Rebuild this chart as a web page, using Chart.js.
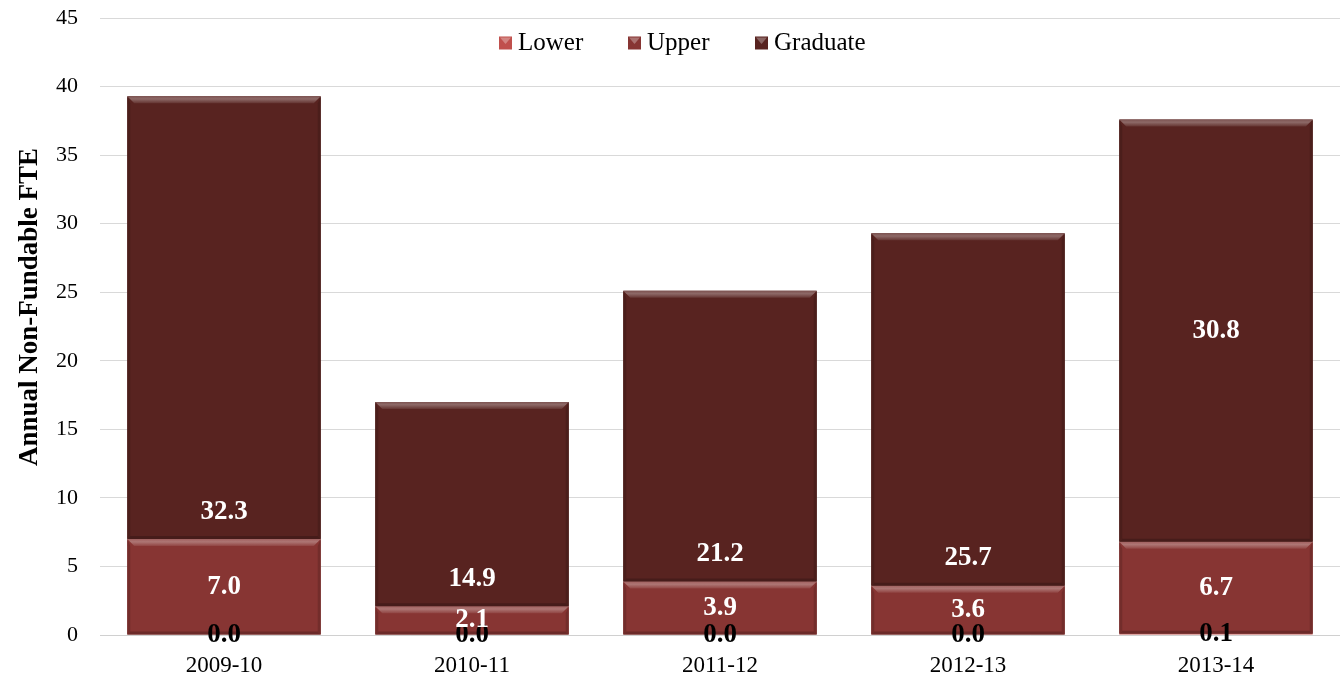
<!DOCTYPE html>
<html>
<head>
<meta charset="utf-8">
<script src="https://cdn.jsdelivr.net/npm/chart.js@4/dist/chart.umd.min.js"></script>
<style>
  html, body { margin: 0; padding: 0; background: #ffffff; }
  #wrap { width: 1340px; height: 679px; position: relative; }
</style>
</head>
<body>
<div id="wrap"><canvas id="c" width="1340" height="679"></canvas></div>
<script>
const categories = ["2009-10", "2010-11", "2011-12", "2012-13", "2013-14"];
const lowerValues = [0.0, 0.0, 0.0, 0.0, 0.1];
const upperValues = [7.0, 2.1, 3.9, 3.6, 6.7];
const graduateValues = [32.3, 14.9, 21.2, 25.7, 30.8];
const seriesNames = ["Lower", "Upper", "Graduate"];
const yTicks = [0, 5, 10, 15, 20, 25, 30, 35, 40, 45];
const yTitle = "Annual Non-Fundable FTE";

const colors = ["#c0504d", "#873533", "#582320"];
const FONT = "'Liberation Serif', 'DejaVu Serif', serif";

function lighten(hex, amt) {
  const n = parseInt(hex.slice(1), 16);
  let r = (n >> 16) & 255, g = (n >> 8) & 255, b = n & 255;
  r = Math.round(r + (255 - r) * amt); g = Math.round(g + (255 - g) * amt); b = Math.round(b + (255 - b) * amt);
  return `rgb(${r},${g},${b})`;
}
function darken(hex, amt) {
  const n = parseInt(hex.slice(1), 16);
  let r = (n >> 16) & 255, g = (n >> 8) & 255, b = n & 255;
  return `rgb(${Math.round(r*(1-amt))},${Math.round(g*(1-amt))},${Math.round(b*(1-amt))})`;
}

// bevel effect on bars
const bevelPlugin = {
  id: 'bevel',
  afterDatasetsDraw(chart) {
    const ctx = chart.ctx;
    chart.data.datasets.forEach((ds, di) => {
      const meta = chart.getDatasetMeta(di);
      meta.data.forEach((bar) => {
        const p = bar.getProps(['x', 'y', 'base', 'width'], true);
        const left = p.x - p.width / 2, right = p.x + p.width / 2;
        const top = Math.min(p.y, p.base), bottom = Math.max(p.y, p.base);
        const h = bottom - top;
        if (h < 1) return;
        const bev = Math.min(7, h / 2);
        const c = ds.backgroundColor;
        ctx.save();
        const g = ctx.createLinearGradient(0, top, 0, top + bev);
        g.addColorStop(0, lighten(c, 0.22));
        g.addColorStop(0.4, lighten(c, 0.32));
        g.addColorStop(1, lighten(c, 0.08));
        ctx.fillStyle = g;
        ctx.beginPath();
        ctx.moveTo(left, top); ctx.lineTo(right, top);
        ctx.lineTo(right - bev, top + bev); ctx.lineTo(left + bev, top + bev);
        ctx.closePath(); ctx.fill();
        ctx.fillStyle = darken(c, 0.15);
        ctx.beginPath();
        ctx.moveTo(right, top); ctx.lineTo(right, bottom);
        ctx.lineTo(right - 3, bottom - 3); ctx.lineTo(right - 3, top + bev);
        ctx.closePath(); ctx.fill();
        ctx.beginPath();
        ctx.moveTo(left, top); ctx.lineTo(left, bottom);
        ctx.lineTo(left + 3, bottom - 3); ctx.lineTo(left + 3, top + bev);
        ctx.closePath(); ctx.fill();
        ctx.fillStyle = darken(c, 0.2);
        ctx.beginPath();
        ctx.moveTo(left, bottom); ctx.lineTo(right, bottom);
        ctx.lineTo(right - 3, bottom - 3); ctx.lineTo(left + 3, bottom - 3);
        ctx.closePath(); ctx.fill();
        ctx.restore();
      });
    });
  }
};

// value labels
const labelPlugin = {
  id: 'vlabels',
  afterDatasetsDraw(chart, args, opts) {
    const ctx = chart.ctx;
    const yScale = chart.scales.y;
    ctx.save();
    ctx.textAlign = 'center';
    ctx.textBaseline = 'middle';
    ctx.font = `bold 27px ${FONT}`;
    chart.data.datasets.forEach((ds, di) => {
      const meta = chart.getDatasetMeta(di);
      meta.data.forEach((bar, i) => {
        const p = bar.getProps(['x', 'y', 'base'], true);
        let y = (p.y + p.base) / 2;
        if (di === 2 && opts.gradAnchor[i] === 'base') {
          y = p.base - (yScale.getPixelForValue(0) - yScale.getPixelForValue(opts.baseOffset));
        }
        ctx.fillStyle = di === 0 ? '#000000' : '#ffffff';
        ctx.fillText(ds.data[i].toFixed(1), p.x, y);
      });
    });
    ctx.restore();
  }
};

// custom legend drawn inside the plot area, plus y-axis title
const legendPlugin = {
  id: 'customLegend',
  afterDraw(chart) {
    const ctx = chart.ctx;
    ctx.save();
    ctx.font = `25px ${FONT}`;
    ctx.textBaseline = 'middle';
    const y = 43;
    const positions = [499, 628, 755];
    seriesNames.forEach((name, i) => {
      const x = positions[i];
      const s = 13;
      const c = colors[i];
      ctx.fillStyle = c;
      ctx.fillRect(x, y - s / 2, s, s);
      ctx.fillStyle = lighten(c, 0.3);
      ctx.beginPath();
      ctx.moveTo(x + 1, y - s / 2 + 1); ctx.lineTo(x + s - 1, y - s / 2 + 1); ctx.lineTo(x + s / 2, y + 1);
      ctx.closePath(); ctx.fill();
      ctx.fillStyle = '#000000';
      ctx.fillText(name, x + s + 6, y);
    });
    // y-axis title
    ctx.translate(30, 307);
    ctx.rotate(-Math.PI / 2);
    ctx.textAlign = 'center';
    ctx.font = `bold 27px ${FONT}`;
    ctx.fillText(yTitle, 0, 0);
    ctx.restore();
  }
};

new Chart(document.getElementById('c'), {
  type: 'bar',
  data: {
    labels: categories,
    datasets: [
      { label: seriesNames[0], data: lowerValues, backgroundColor: colors[0] },
      { label: seriesNames[1], data: upperValues, backgroundColor: colors[1] },
      { label: seriesNames[2], data: graduateValues, backgroundColor: colors[2] }
    ]
  },
  options: {
    responsive: false,
    animation: false,
    layout: { padding: { top: 18, right: 0, bottom: 0, left: 0 } },
    datasets: { bar: { categoryPercentage: 1.0, barPercentage: 0.78, borderWidth: 0 } },
    plugins: {
      legend: { display: false },
      tooltip: { enabled: false },
      vlabels: { gradAnchor: ['base', 'base', 'base', 'base', 'center'], baseOffset: 2.0 }
    },
    scales: {
      x: {
        stacked: true,
        grid: { display: false },
        border: { display: true, color: '#d0d0d0', width: 1 },
        ticks: { color: '#000000', font: { family: FONT, size: 23 }, padding: 9 },
        afterFit(scale) { scale.height = 44; scale.paddingLeft = 0; scale.paddingRight = 0; }
      },
      y: {
        stacked: true,
        min: 0, max: 45,
        afterBuildTicks(scale) { scale.ticks = yTicks.map(v => ({ value: v })); },
        grid: { color: '#d9d9d9', drawTicks: false, lineWidth: 1 },
        border: { display: false },
        ticks: { color: '#000000', font: { family: FONT, size: 22 }, padding: 22 },
        title: { display: false },
        afterFit(scale) { scale.width = 100; scale.paddingTop = 0; scale.paddingBottom = 0; }
      }
    }
  },
  plugins: [bevelPlugin, labelPlugin, legendPlugin]
});
</script>
</body>
</html>
